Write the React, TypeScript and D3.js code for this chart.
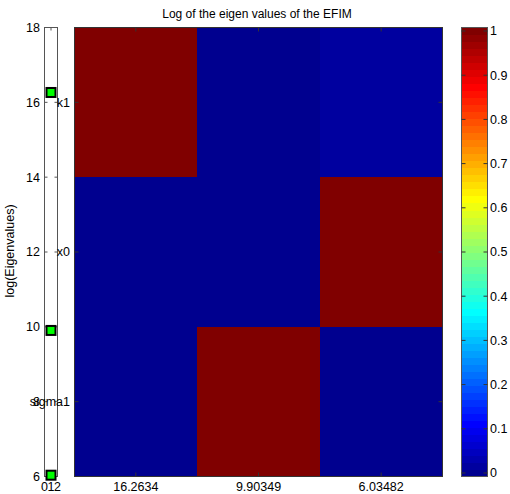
import React from "react";
import * as d3 from "d3";

const eigenValues = [16.2634, 9.90349, 6.03482];
const eigenLabels = ["16.2634", "9.90349", "6.03482"];
const paramLabels = ["k1", "x0", "sigma1"];
const rowK1 = [1, 0, 0.02];
const rowX0 = [0, 0, 1];
const rowSigma1 = [0, 1, 0];
const leftTicks = [6, 8, 10, 12, 14, 16, 18];
const leftXTicks = [0, 1, 2];
const cbTicks = [0, 0.1, 0.2, 0.3, 0.4, 0.5, 0.6, 0.7, 0.8, 0.9, 1];
const title = "Log of the eigen values of the EFIM";
const yTitle = "log(Eigenvalues)";

function jet(m: number): [number, number, number][] {
  const n = Math.ceil(m / 4);
  const u: number[] = [];
  for (let i = 1; i <= n; i++) u.push(i / n);
  for (let i = 0; i < n - 1; i++) u.push(1);
  for (let i = n; i >= 1; i--) u.push(i / n);
  const off = Math.ceil(n / 2) - (m % 4 === 1 ? 1 : 0);
  const J: [number, number, number][] = Array.from({ length: m }, () => [0, 0, 0]);
  u.forEach((val, k) => {
    const g = off + k + 1;
    const r = g + n;
    const b = g - n;
    if (r >= 1 && r <= m) J[r - 1][0] = val;
    if (g >= 1 && g <= m) J[g - 1][1] = val;
    if (b >= 1 && b <= m) J[b - 1][2] = val;
  });
  return J;
}

const JET = jet(64);
const toColor = (c: [number, number, number]) =>
  `rgb(${Math.round(c[0] * 255)},${Math.round(c[1] * 255)},${Math.round(c[2] * 255)})`;
const valColor = (v: number) => {
  const idx = Math.max(0, Math.min(63, Math.floor(v * 64)));
  return toColor(JET[idx]);
};

const FONT = "'Liberation Sans', Arial, Helvetica, sans-serif";
const FS = 12.5;
const AX = "#333";

export default function App() {
  const matrix = [rowK1, rowX0, rowSigma1];
  const top = 27.5;
  const bottom = 476.5;

  // heatmap
  const hx = d3.scaleBand<number>().domain([0, 1, 2]).range([74.5, 442.5]);
  const hy = d3.scaleBand<number>().domain([0, 1, 2]).range([top, bottom]);

  // narrow axis
  const lx = d3.scaleLinear().domain([0, 2]).range([44.5, 57.5]);
  const ly = d3.scaleLinear().domain([6, 18]).range([bottom, top]);

  // colorbar
  const cbL = 461.5, cbR = 487.5;
  const cy = d3.scaleLinear().domain([-0.5 / 63, 1 + 0.5 / 63]).range([bottom, top]);
  const tl = 4;

  return (
    <svg width={510} height={494} style={{ position: "absolute", left: 0, top: 0, background: "#fff" }}
      fontFamily={FONT} fontSize={FS}>
      <text x={257} y={18} textAnchor="middle" fontSize={12}>{title}</text>

      {/* heatmap cells */}
      <g shapeRendering="crispEdges">
        {matrix.map((row, i) =>
          row.map((v, j) => (
            <rect key={`c${i}-${j}`} x={hx(j)} y={hy(i)}
              width={hx.bandwidth() + (j < 2 ? 0.5 : 0)} height={hy.bandwidth() + (i < 2 ? 0.5 : 0)}
              fill={valColor(v)} />
          ))
        )}
      </g>
      <rect x={74.5} y={top} width={442.5 - 74.5} height={bottom - top} fill="none" stroke={AX} strokeWidth={1} />
      {[0, 1, 2].map((j) => {
        const x = hx(j)! + hx.bandwidth() / 2;
        return (
          <g key={`hxt${j}`}>
            <line x1={x} x2={x} y1={bottom} y2={bottom - tl} stroke={AX} />
            <line x1={x} x2={x} y1={top} y2={top + tl} stroke={AX} />
            <text x={x} y={bottom + 14} textAnchor="middle">{eigenLabels[j]}</text>
          </g>
        );
      })}
      {[0, 1, 2].map((i) => {
        const y = hy(i)! + hy.bandwidth() / 2;
        return (
          <g key={`hyt${i}`}>
            <line x1={74.5} x2={74.5 + tl} y1={y} y2={y} stroke={AX} />
            <line x1={442.5} x2={442.5 - tl} y1={y} y2={y} stroke={AX} />
          </g>
        );
      })}

      {/* narrow axis */}
      <rect x={44.5} y={top} width={13} height={bottom - top} fill="#fff" stroke="#555" strokeWidth={1} />
      {leftTicks.map((t) => (
        <g key={`ly${t}`}>
          <line x1={44.5} x2={44.5 + 3} y1={ly(t)} y2={ly(t)} stroke="#555" />
          <line x1={57.5} x2={57.5 - 3} y1={ly(t)} y2={ly(t)} stroke="#555" />
          <text x={40} y={ly(t)} dy="0.35em" textAnchor="end">{t}</text>
        </g>
      ))}
      {leftXTicks.map((t) => (
        <g key={`lx${t}`}>
          <line x1={lx(t)} x2={lx(t)} y1={top} y2={top + 3} stroke="#555" />
          <line x1={lx(t)} x2={lx(t)} y1={bottom} y2={bottom - 3} stroke="#555" />
          <text x={lx(t)} y={bottom + 14} textAnchor="middle">{t}</text>
        </g>
      ))}
      {eigenValues.map((v, k) => (
        <rect key={`m${k}`} x={lx(1) - 4.5} y={ly(v) - 4.5} width={9} height={9} fill="#00ff00"
          stroke="#000" strokeWidth={2} />
      ))}

      {/* heatmap row labels (drawn over narrow axis labels, as in the original) */}
      {[0, 1, 2].map((i) => {
        const y = hy(i)! + hy.bandwidth() / 2;
        return (
          <text key={`hl${i}`} x={70} y={y} dy="0.35em" textAnchor="end">{paramLabels[i]}</text>
        );
      })}

      <text transform={`translate(14,251) rotate(-90)`} textAnchor="middle">{yTitle}</text>

      {/* colorbar */}
      <g shapeRendering="crispEdges">
        {JET.map((c, i) => {
          const y0 = Math.min(bottom, cy((i - 0.5) / 63) + (i > 0 ? 0.6 : 0));
          const y1 = Math.max(top, cy((i + 0.5) / 63));
          return <rect key={`cb${i}`} x={cbL} y={y1} width={cbR - cbL} height={y0 - y1} fill={toColor(c)} />;
        })}
      </g>
      <rect x={cbL} y={top} width={cbR - cbL} height={bottom - top} fill="none" stroke="#555" strokeWidth={1} />
      {cbTicks.map((t) => (
        <g key={`cbt${t}`}>
          <line x1={cbL} x2={cbL + tl} y1={cy(t)} y2={cy(t)} stroke="#333" />
          <line x1={cbR} x2={cbR - tl} y1={cy(t)} y2={cy(t)} stroke="#333" />
          <text x={490} y={cy(t)} dy="0.35em" textAnchor="start">{t}</text>
        </g>
      ))}
    </svg>
  );
}
